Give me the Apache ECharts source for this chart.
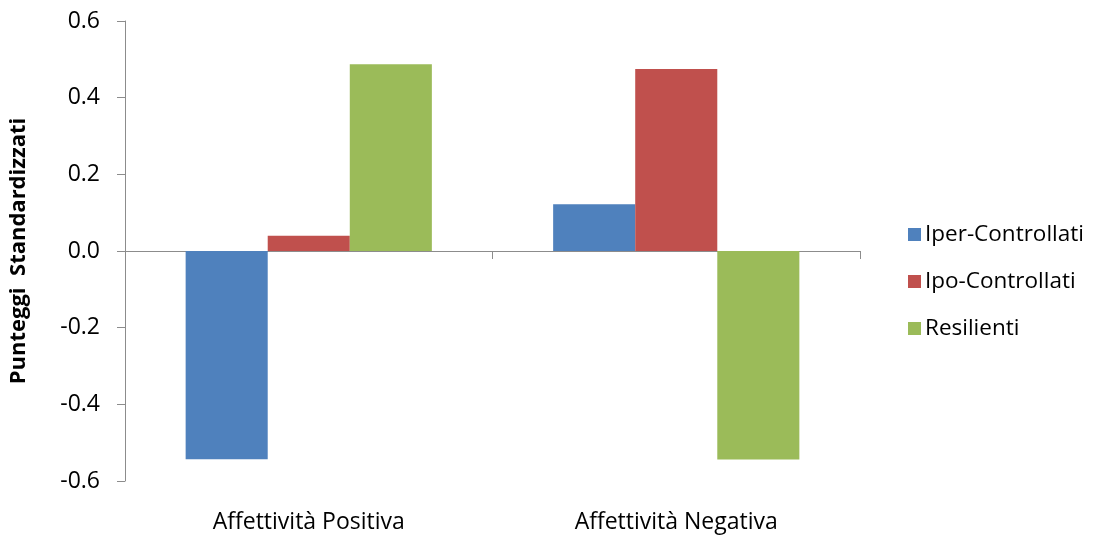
<!DOCTYPE html>
<html>
<head>
<meta charset="utf-8">
<script src="https://cdn.jsdelivr.net/npm/echarts@6/dist/echarts.min.js"></script>
<style>
  html, body { margin: 0; padding: 0; background: #fff; }
  #chart { width: 1095px; height: 537px; }
</style>
</head>
<body>
<div id="chart"></div>
<script>
// Standardised scores per affectivity dimension and profile group
const categories = ['Affettività Positiva', 'Affettività Negativa'];
const iperControllati = [-0.543, 0.122];
const ipoControllati = [0.040, 0.475];
const resilienti = [0.487, -0.544];
const yTicks = [-0.6, -0.4, -0.2, 0.0, 0.2, 0.4, 0.6];

const font = 'Open Sans';
const axisGrey = '#8c8c8c';

const chart = echarts.init(document.getElementById('chart'), null, { renderer: 'canvas' });

chart.setOption({
  animation: false,
  backgroundColor: '#ffffff',
  textStyle: { fontFamily: font },
  grid: { left: 123, right: 235, top: 21, bottom: 56, containLabel: false },
  legend: {
    orient: 'vertical',
    left: 903,
    top: 218,
    itemWidth: 13,
    itemHeight: 13,
    itemGap: 24,
    icon: 'rect',
    textStyle: { fontFamily: font, fontSize: 22.5, color: '#000', padding: [0, 0, 0, -1] },
    data: ['Iper-Controllati', 'Ipo-Controllati', 'Resilienti']
  },
  xAxis: [
    {
      type: 'category',
      data: categories,
      axisLine: { onZero: true, lineStyle: { color: axisGrey, width: 1 } },
      axisTick: { show: true, length: 8, lineStyle: { color: axisGrey } },
      axisLabel: { show: false },
      splitLine: { show: false }
    },
    {
      type: 'category',
      data: categories,
      position: 'bottom',
      axisLine: { show: false, onZero: false },
      axisTick: { show: false },
      axisLabel: { show: true, margin: 30, fontFamily: font, fontSize: 23, color: '#000' },
      splitLine: { show: false }
    }
  ],
  yAxis: {
    type: 'value',
    min: yTicks[0],
    max: yTicks[yTicks.length - 1],
    interval: 0.2,
    name: 'Punteggi  Standardizzati',
    nameLocation: 'middle',
    nameGap: 95,
    nameRotate: 90,
    nameTextStyle: { fontFamily: font, fontSize: 22, fontWeight: 'bold', color: '#000' },
    axisLine: { show: true, lineStyle: { color: axisGrey, width: 1 } },
    axisTick: { show: true, inside: false, length: 8, lineStyle: { color: axisGrey } },
    axisLabel: {
      margin: 25,
      fontFamily: font,
      fontSize: 23,
      color: '#000',
      formatter: v => v.toFixed(1)
    },
    splitLine: { show: false }
  },
  series: [
    {
      name: 'Iper-Controllati', type: 'bar', data: iperControllati,
      barGap: '0%', barCategoryGap: '33%',
      itemStyle: { color: '#4F81BD' }
    },
    {
      name: 'Ipo-Controllati', type: 'bar', data: ipoControllati,
      barGap: '0%', barCategoryGap: '33%',
      itemStyle: { color: '#C0504D' }
    },
    {
      name: 'Resilienti', type: 'bar', data: resilienti,
      barGap: '0%', barCategoryGap: '33%',
      itemStyle: { color: '#9BBB59' }
    }
  ]
});
</script>
</body>
</html>
